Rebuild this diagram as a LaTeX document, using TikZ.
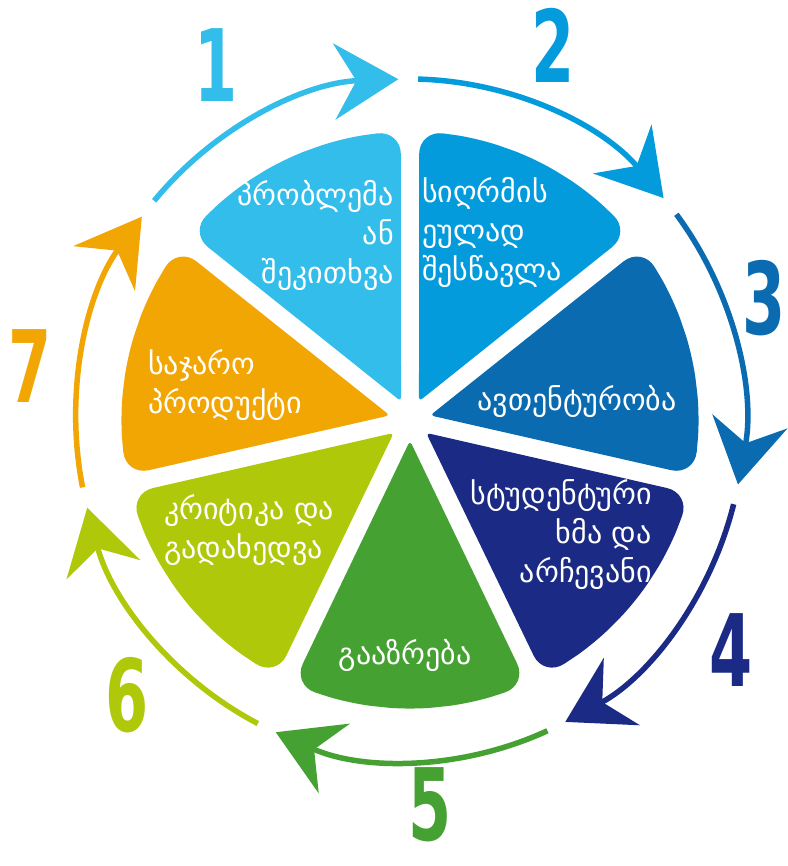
\documentclass[tikz,border=0pt]{standalone}
\usepackage{fontspec}
\usepackage{graphicx}
\usetikzlibrary{arrows.meta}
\newfontfamily\geofont[Script=Georgian]{DejaVu Sans}
\newfontfamily\numfont{DejaVu Sans}
\definecolor{cone}{HTML}{33BDEB}
\definecolor{ctwo}{HTML}{049BDD}
\definecolor{cthree}{HTML}{0A6BB0}
\definecolor{cfour}{HTML}{1B2A84}
\definecolor{cfive}{HTML}{45A132}
\definecolor{csix}{HTML}{AFC90A}
\definecolor{cseven}{HTML}{F2A603}

\begin{document}
\begin{tikzpicture}[x=1pt,y=1pt]
\tikzset{
  seglabel/.style={text=white, inner sep=0pt, font=\geofont\fontsize{30}{39}\selectfont},
  ringarc/.style={line width=5.5pt, -{Stealth[length=64pt,width=76pt,inset=22pt]}},
  stepnum/.style={inner sep=0pt, font=\numfont\bfseries\fontsize{100}{100}\selectfont},
}
\useasboundingbox (-410,-446) rectangle (377,420);
% wheel
\fill[cone, rotate=115.71] (20.7,0) [rounded corners=24pt] -- (-23.9:290) -- (-12:290) -- (0:290) -- (12:290) -- (23.9:290) [rounded corners=4pt] -- cycle;%1
\fill[ctwo, rotate=64.29] (20.7,0) [rounded corners=24pt] -- (-23.9:290) -- (-12:290) -- (0:290) -- (12:290) -- (23.9:290) [rounded corners=4pt] -- cycle;%2
\fill[cthree, rotate=12.86] (20.7,0) [rounded corners=24pt] -- (-23.9:290) -- (-12:290) -- (0:290) -- (12:290) -- (23.9:290) [rounded corners=4pt] -- cycle;%3
\fill[cfour, rotate=-38.57] (20.7,0) [rounded corners=24pt] -- (-23.9:290) -- (-12:290) -- (0:290) -- (12:290) -- (23.9:290) [rounded corners=4pt] -- cycle;%4
\fill[cfive, rotate=-90] (20.7,0) [rounded corners=24pt] -- (-23.9:290) -- (-12:290) -- (0:290) -- (12:290) -- (23.9:290) [rounded corners=4pt] -- cycle;%5
\fill[csix, rotate=-141.43] (20.7,0) [rounded corners=24pt] -- (-23.9:290) -- (-12:290) -- (0:290) -- (12:290) -- (23.9:290) [rounded corners=4pt] -- cycle;%6
\fill[cseven, rotate=167.14] (20.7,0) [rounded corners=24pt] -- (-23.9:290) -- (-12:290) -- (0:290) -- (12:290) -- (23.9:290) [rounded corners=4pt] -- cycle;%7
% labels
\node[seglabel, anchor=east, align=right] (problem) at (-16,185) {პრობლემა\\ან\hspace*{10pt}\\შეკითხვა};
\node[seglabel, anchor=west, align=left] (deep) at (12,188) {სიღრმის\\ეულად\\შესწავლა};
\node[seglabel] (authentic) at (167,19) {ავთენტურობა};
\node[seglabel, anchor=east, align=right] (voice) at (242,-115) {სტუდენტური\\ხმა და\\არჩევანი};
\node[seglabel] (reflect) at (-5,-235) {გააზრება};
\node[seglabel, anchor=west, align=left] (critique) at (-246,-110) {კრიტიკა და\\გადახედვა};
\node[seglabel, anchor=west, align=left] (product) at (-262,35) {საჯარო\\პროდუქტი};
% ring
\coordinate (s1) at (140:334 and 341);
\coordinate (s2) at (88.6:334 and 341);
\coordinate (s3) at (37.1:334 and 341);
\coordinate (s4) at (-14.3:334 and 341);
\coordinate (s5) at (-65.7:334 and 341);
\coordinate (s6) at (-117.1:334 and 341);
\coordinate (s7) at (-168.6:334 and 341);
\draw[ringarc, cone] (s1) arc[start angle=140, end angle=92, x radius=334, y radius=341];
\draw[ringarc, ctwo] (s2) arc[start angle=88.6, end angle=40.6, x radius=334, y radius=341];
\draw[ringarc, cthree] (s3) arc[start angle=37.1, end angle=-10.9, x radius=334, y radius=341];
\draw[ringarc, cfour] (s4) arc[start angle=-14.3, end angle=-62.3, x radius=334, y radius=341];
\draw[ringarc, cfive] (s5) arc[start angle=-65.7, end angle=-113.7, x radius=334, y radius=341];
\draw[ringarc, csix] (s6) arc[start angle=-117.1, end angle=-165.1, x radius=334, y radius=341];
\draw[ringarc, cseven] (s7) arc[start angle=-168.6, end angle=-216.6, x radius=334, y radius=341];
% numbers
\node[stepnum, text=cone] (n1) at (-194,355) {\scalebox{0.62}[1]{1}};
\node[stepnum, text=ctwo] (n2) at (143,375) {\scalebox{0.62}[1]{2}};
\node[stepnum, text=cthree] (n3) at (354,122) {\scalebox{0.62}[1]{3}};
\node[stepnum, text=cfour] (n4) at (321,-230) {\scalebox{0.62}[1]{4}};
\node[stepnum, text=cfive] (n5) at (20,-385) {\scalebox{0.62}[1]{5}};
\node[stepnum, text=csix] (n6) at (-283,-275) {\scalebox{0.62}[1]{6}};
\node[stepnum, text=cseven] (n7) at (-380,54) {\scalebox{0.62}[1]{7}};
\end{tikzpicture}
\end{document}
